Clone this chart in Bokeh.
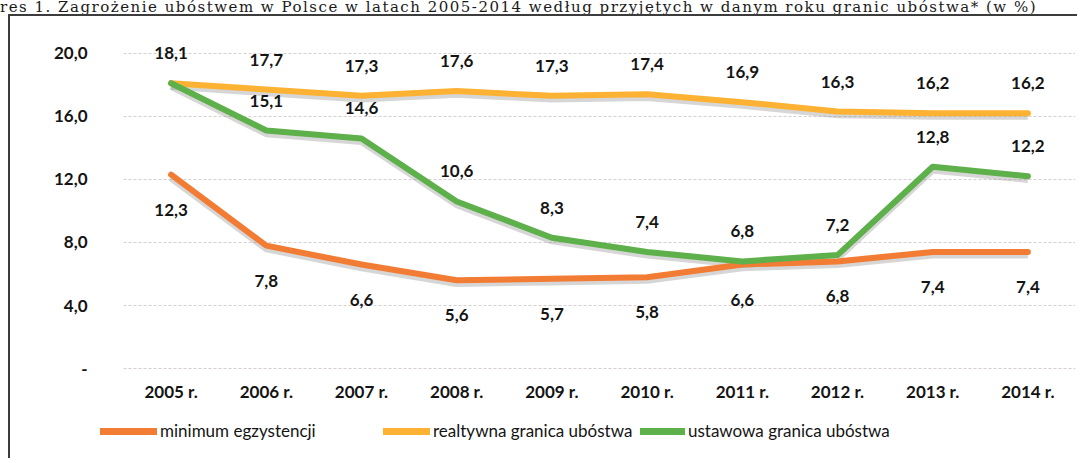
import numpy as np
from bokeh.plotting import figure
from bokeh.layouts import column
from bokeh.models import (FactorRange, Range1d, FixedTicker, CustomJSTickFormatter,
                          ColumnDataSource, Legend, LegendItem, Div)
from bokeh.core.properties import value
from bokeh.embed import file_html
from bokeh.resources import INLINE

# ---------------- data ----------------
years = ["2005 r.", "2006 r.", "2007 r.", "2008 r.", "2009 r.",
         "2010 r.", "2011 r.", "2012 r.", "2013 r.", "2014 r."]
minimum_egzystencji = [12.3, 7.8, 6.6, 5.6, 5.7, 5.8, 6.6, 6.8, 7.4, 7.4]
relatywna_granica = [18.1, 17.7, 17.3, 17.6, 17.3, 17.4, 16.9, 16.3, 16.2, 16.2]
ustawowa_granica = [18.1, 15.1, 14.6, 10.6, 8.3, 7.4, 6.8, 7.2, 12.8, 12.2]
series_names = ["minimum egzystencji", "realtywna granica ubóstwa", "ustawowa granica ubóstwa"]
y_ticks = [0, 4, 8, 12, 16, 20]
title_text = ("res 1. Zagrożenie ubóstwem w Polsce w latach 2005-2014 "
              "według przyjętych w danym roku granic ubóstwa* (w %)")

# ---------------- styles ----------------
C_ORANGE = "#F27C33"
C_YELLOW = "#FDB233"
C_GREEN = "#5DB04A"
COLORS = [C_ORANGE, C_YELLOW, C_GREEN]
FONT = "Lato"
TXT = "#141414"
BORDER = "2px solid #3c3c3c"


def fmt(v):
    return f"{v:.1f}".replace(".", ",")


src = ColumnDataSource(dict(
    x=years,
    m=minimum_egzystencji,
    r=relatywna_granica,
    u=ustawowa_granica,
    m_lbl=[fmt(v) for v in minimum_egzystencji],
    r_lbl=[fmt(v) for v in relatywna_granica],
    u_lbl=[""] + [fmt(v) for v in ustawowa_granica[1:]],
))

# ---------------- main chart ----------------
p = figure(width=1069, height=400, x_range=FactorRange(*years),
           y_range=Range1d(-0.5, 21.0),
           output_backend="svg", toolbar_location=None,
           min_border_left=113, min_border_right=4,
           min_border_top=21, min_border_bottom=40,
           margin=(0, 0, 0, 8),
           styles={"border-left": BORDER, "border-top": BORDER})
p.frame_align = False
p.extra_y_ranges = {"shadow": Range1d(-0.5 + 0.2, 21.0 + 0.2)}

p.background_fill_color = "white"
p.border_fill_color = "white"
p.outline_line_color = None

p.xgrid.grid_line_color = None
p.ygrid.grid_line_color = "#d6cfcf"
p.ygrid.grid_line_width = 1
p.ygrid.grid_line_dash = "3 2"

p.yaxis.ticker = FixedTicker(ticks=y_ticks)
p.yaxis.formatter = CustomJSTickFormatter(
    code="return tick == 0 ? '-' : tick.toFixed(1).replace('.', ',');")
for ax in (p.xaxis, p.yaxis):
    ax.axis_line_color = None
    ax.major_tick_line_color = None
    ax.minor_tick_line_color = None
    ax.major_tick_out = 0
    ax.major_tick_in = 0
    ax.minor_tick_out = 0
    ax.major_label_text_font = FONT
    ax.major_label_text_font_style = "bold"
    ax.major_label_text_font_size = "17px"
    ax.major_label_text_color = TXT
p.yaxis.major_label_standoff = 36
p.xaxis.major_label_standoff = 4

for col in ("m", "r", "u"):
    p.line("x", col, source=src, line_color="#8a8a8a", line_alpha=0.35,
           line_width=7, y_range_name="shadow", line_join="round")

for col, c in zip(("m", "r", "u"), COLORS):
    p.line("x", col, source=src, line_color=c, line_width=6,
           line_join="round", line_cap="round")

common = dict(source=src, text_font=value(FONT), text_font_style="bold",
              text_font_size="17px", text_color=TXT, text_align="center",
              text_baseline="middle")
p.text("x", "m", text="m_lbl", y_offset=35, **common)
p.text("x", "r", text="r_lbl", y_offset=-30, **common)
p.text("x", "u", text="u_lbl", y_offset=-30, **common)

# ---------------- legend strip ----------------
pl = figure(width=1069, height=44, x_range=Range1d(0, 1), y_range=Range1d(0, 1),
            output_backend="svg", toolbar_location=None,
            x_axis_location=None, y_axis_location=None,
            min_border_left=0, min_border_right=0,
            min_border_top=0, min_border_bottom=0,
            margin=(0, 0, 0, 8), styles={"border-left": BORDER})
pl.frame_align = False
pl.grid.visible = False
pl.outline_line_color = None
pl.background_fill_color = "white"
pl.border_fill_color = "white"

for name, c, xpos, gw in zip(series_names, COLORS, (90, 373, 630), (57, 47, 45)):
    # placeholder renderer (no visible data) that only supplies the legend swatch
    dummy = pl.line(x=np.array([np.nan]), y=np.array([np.nan]),
                    line_color=c, line_width=7, line_cap="round")
    lg = Legend(items=[LegendItem(label=name, renderers=[dummy])],
                location=(xpos, 17), orientation="horizontal",
                padding=0, margin=0, spacing=0,
                glyph_width=gw, glyph_height=20, label_standoff=3,
                label_text_font=FONT, label_text_font_size="17px",
                label_text_color=TXT, border_line_color=None,
                background_fill_alpha=0)
    pl.add_layout(lg, "center")

# ---------------- caption ----------------
title = Div(text=('<span style="font-family: \'DejaVu Serif\'; font-size: 15px; '
                  'letter-spacing: 1.5px; color: #1a1a1a; white-space: nowrap; '
                  'line-height: 14px;">' + title_text + '</span>'),
            width=1079, height=14, margin=0)

layout = column(title, p, pl, spacing=0)

open("out.html", "w").write(file_html(layout, INLINE))
